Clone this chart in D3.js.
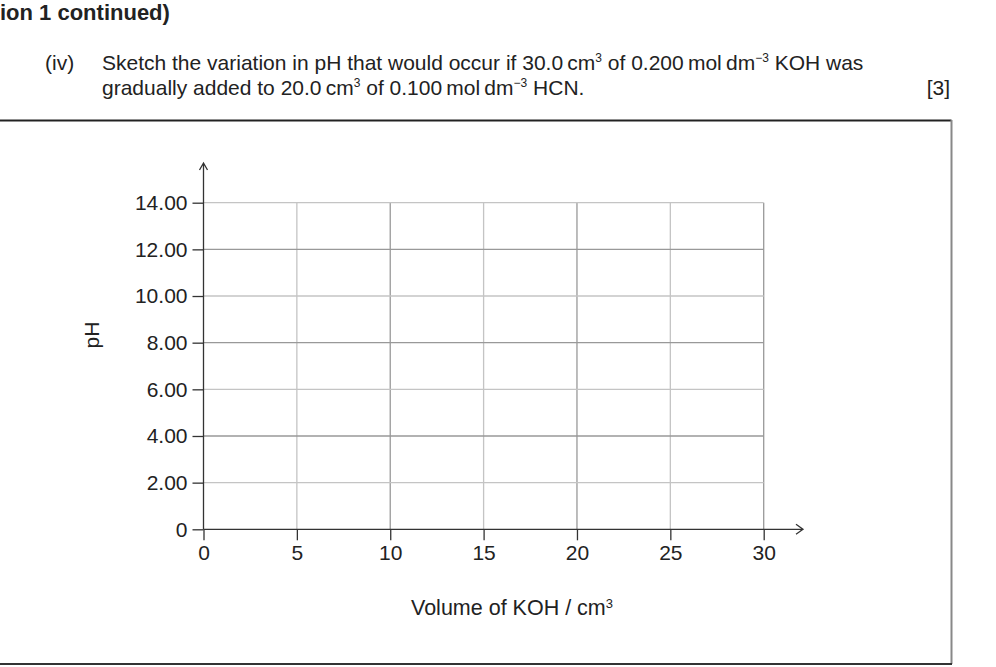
<!DOCTYPE html>
<html>
<head>
<meta charset="utf-8">
<script src="https://cdn.jsdelivr.net/npm/d3@7"></script>
<style>
  body { margin: 0; background: #fff; }
  svg { display: block; font-family: "Liberation Sans", Arial, sans-serif; fill: #222; }
</style>
</head>
<body>
<svg id="chart" width="996" height="667"></svg>
<script>
// axis values
const xTicks = [0, 5, 10, 15, 20, 25, 30];
const yTicks = [0, 2, 4, 6, 8, 10, 12, 14];
const yTickLabels = ["0", "2.00", "4.00", "6.00", "8.00", "10.00", "12.00", "14.00"];
const xDomain = [0, 30];
const yDomain = [0, 14];

const svg = d3.select("#chart");

// header text
svg.append("text")
    .attr("x", 0).attr("y", 20)
    .attr("font-size", 22).attr("font-weight", "bold")
    .text("ion 1 continued)");

svg.append("text").attr("x", 45).attr("y", 70).attr("font-size", 21).text("(iv)");

function writeLine(y, parts) {
    const t = svg.append("text").attr("x", 102).attr("y", y).attr("font-size", 21);
    let back = 0;
    parts.forEach(p => {
        if (typeof p === "object") {
            t.append("tspan").attr("font-size", 12).attr("dy", -8).text(p.up);
            back = 8;
        } else {
            t.append("tspan").attr("dy", back).text(p);
            back = 0;
        }
    });
    return t;
}
writeLine(70, ["Sketch the variation in pH that would occur if 30.0\u2009cm", {up: "3"},
    " of 0.200\u2009mol\u2009dm", {up: "\u22123"}, " KOH was"]);
writeLine(95, ["gradually added to 20.0\u2009cm", {up: "3"},
    " of 0.100\u2009mol\u2009dm", {up: "\u22123"}, " HCN."]);

svg.append("text").attr("x", 950).attr("y", 95).attr("font-size", 21)
    .attr("text-anchor", "end").text("[3]");

// answer box
svg.append("path").attr("d", "M-5,120.5H951.5").attr("stroke", "#222").attr("stroke-width", 2).attr("fill", "none");
svg.append("path").attr("d", "M951.5,120V664").attr("stroke", "#888").attr("stroke-width", 2).attr("fill", "none");
svg.append("path").attr("d", "M-5,664H952").attr("stroke", "#333").attr("stroke-width", 2).attr("fill", "none");

const x = d3.scaleLinear().domain(xDomain).range([203.5, 763.7]);
const y = d3.scaleLinear().domain(yDomain).range([529.3, 202.7]);

const g = svg.append("g");

// grid
g.selectAll(".vgrid").data(xTicks.slice(1)).enter().append("line")
    .attr("x1", d => x(d)).attr("x2", d => x(d))
    .attr("y1", y(0)).attr("y2", y(14))
    .attr("stroke", (d, i) => i % 2 ? "#999" : "#c4c4c4").attr("stroke-width", 1.3);
g.selectAll(".hgrid").data(yTicks.slice(1)).enter().append("line")
    .attr("x1", x(0)).attr("x2", x(30))
    .attr("y1", d => y(d)).attr("y2", d => y(d))
    .attr("stroke", (d, i) => i % 2 ? "#999" : "#c4c4c4").attr("stroke-width", 1.3);

// axes
const yAxis = d3.axisLeft(y).tickValues(yTicks)
    .tickFormat((d, i) => yTickLabels[i]).tickSize(11).tickPadding(5);
const xAxis = d3.axisBottom(x).tickValues(xTicks).tickSize(11).tickPadding(5);

const ya = g.append("g").attr("transform", `translate(${x(0)},0)`).call(yAxis);
const xa = g.append("g").attr("transform", `translate(0,${y(0)})`).call(xAxis);
[ya, xa].forEach(a => {
    a.select(".domain").remove();
    a.selectAll("line").attr("stroke", "#333").attr("stroke-width", 1.3);
    a.selectAll("text").attr("font-size", 21).attr("fill", "#222")
        .attr("font-family", "Liberation Sans, Arial, sans-serif");
});

// axis lines with open arrow heads
g.append("path")
    .attr("d", `M${x(0)},${y(0)}V163 M${x(0) - 4},170L${x(0)},163L${x(0) + 4},170`)
    .attr("stroke", "#333").attr("stroke-width", 1.3).attr("fill", "none");
g.append("path")
    .attr("d", `M${x(0)},${y(0)}H803 M796,${y(0) - 5}L803,${y(0)}L796,${y(0) + 5}`)
    .attr("stroke", "#333").attr("stroke-width", 1.3).attr("fill", "none");

// axis titles
svg.append("text")
    .attr("transform", "translate(99,335) rotate(-90)")
    .attr("text-anchor", "middle").attr("font-size", 21).text("pH");

const xt = svg.append("text").attr("x", 411).attr("y", 615).attr("font-size", 21.5);
xt.append("tspan").text("Volume of KOH / cm");
xt.append("tspan").attr("font-size", 13).attr("dy", -7).text("3");
</script>
</body>
</html>
